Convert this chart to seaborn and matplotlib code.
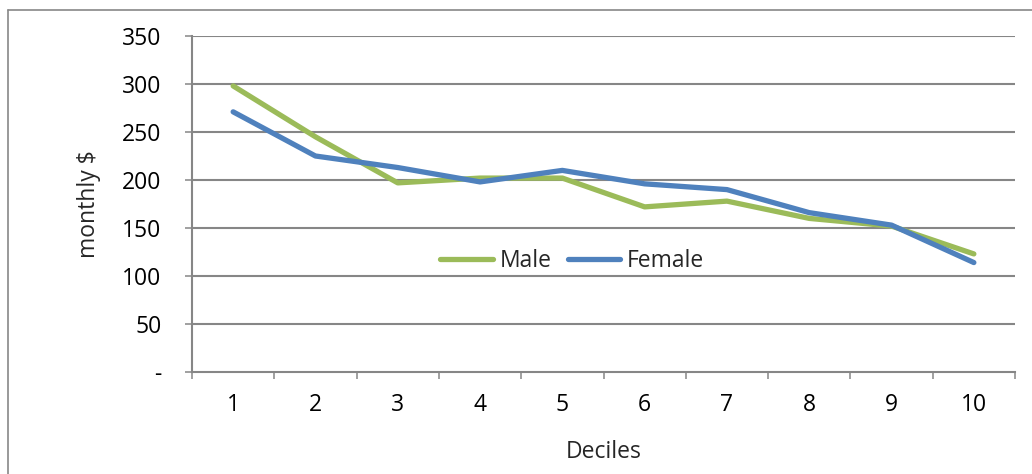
import numpy as np
import pandas as pd
import matplotlib
matplotlib.use("Agg")
import matplotlib.pyplot as plt
from matplotlib.lines import Line2D
import seaborn as sns

deciles = [1, 2, 3, 4, 5, 6, 7, 8, 9, 10]
male = [298, 245, 197, 202, 202, 172, 178, 160, 152, 123]
female = [271, 225, 213, 198, 210, 196, 190, 166, 153, 114]
series_names = ["Male", "Female"]
colors = ["#9BBB59", "#4F81BD"]
yticks = [0, 50, 100, 150, 200, 250, 300, 350]
ytick_labels = ["-", "50", "100", "150", "200", "250", "300", "350"]

df = pd.DataFrame({
    "Deciles": deciles * 2,
    "value": male + female,
    "series": ["Male"] * len(deciles) + ["Female"] * len(deciles),
})

sns.set_theme(style="white")
plt.rcParams["font.family"] = ["Open Sans", "DejaVu Sans"]

FS = 16.5
W, H = 1032, 474
fig = plt.figure(figsize=(W / 100, H / 100), dpi=100)
ax = fig.add_axes([192 / W, 1 - 372 / H, (1015 - 192) / W, (372 - 36) / H])

sns.lineplot(data=df, x="Deciles", y="value", hue="series", hue_order=series_names,
             palette=colors, linewidth=3.8, ax=ax, legend=True, sort=False)

grid_c = "#868686"
ax.set_xlim(0.5, 10.5)
ax.set_ylim(0, 350)
ax.set_yticks(yticks)
ax.set_yticklabels(ytick_labels)
for y in yticks[1:]:
    ax.axhline(y, color=grid_c, lw=1.5, zorder=0)
ax.set_xticks(deciles)
ax.set_xticklabels([str(d) for d in deciles])
ax.tick_params(axis="both", which="both", bottom=True, left=True)
ax.tick_params(axis="x", which="major", length=0, pad=15, labelsize=FS, colors="black")
ax.tick_params(axis="y", which="major", length=5, width=1.1, color=grid_c, direction="out",
               pad=17, labelsize=FS, labelcolor="black")
# minor ticks between categories
ax.set_xticks(np.arange(0.5, 11.0, 1.0), minor=True)
ax.tick_params(axis="x", which="minor", length=5, width=1.1, color=grid_c, direction="out")

for s in ["top", "right"]:
    ax.spines[s].set_visible(False)
for s in ["left", "bottom"]:
    ax.spines[s].set_color(grid_c)
    ax.spines[s].set_linewidth(1.5)

ax.set_xlabel("Deciles", fontsize=FS, labelpad=17)
ax.set_ylabel("monthly $", fontsize=FS, labelpad=15)

leg = ax.legend(title=None, loc="center", bbox_to_anchor=(0.462, 0.33), ncol=2,
                frameon=False, fontsize=FS, handlelength=2.3, handletextpad=0.3,
                columnspacing=0.7)
for lh in leg.get_lines():
    lh.set_linewidth(3.8)
    lh.set_solid_capstyle("round")

fig.add_artist(Line2D([8 / W, 8 / W], [1 - 10 / H, 0], color="#888888", lw=1.2))
fig.add_artist(Line2D([8 / W, 1], [1 - 10 / H, 1 - 10 / H], color="#888888", lw=1.2))

fig.savefig("out.png", dpi=100, facecolor="white")
